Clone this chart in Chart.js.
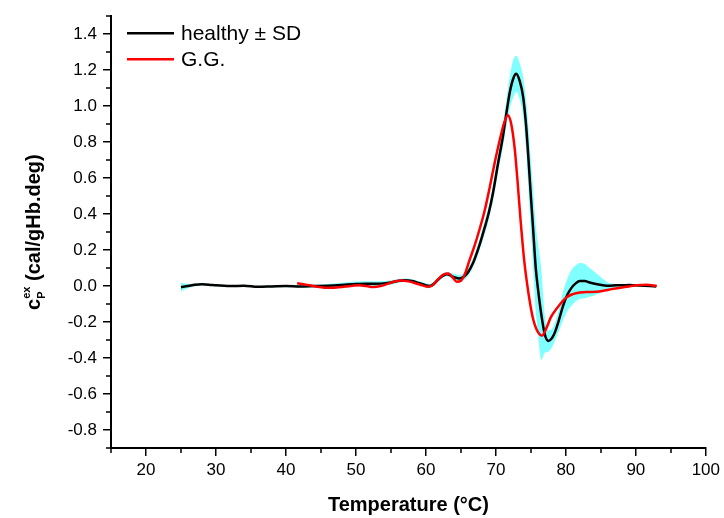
<!DOCTYPE html>
<html>
<head>
  <script src="https://cdn.jsdelivr.net/npm/chart.js"></script>
  <style>
    html, body { margin: 0; padding: 0; background: #fff; }
  </style>
</head>
<body>
  <canvas id="dscChart" width="724" height="518"></canvas>

  <script>
    // healthy: mean excess heat capacity and its SD
    var healthyT = [25, 26, 27, 28, 29, 30, 32, 34, 36, 38, 40, 42, 44, 46, 48, 50, 52, 54, 55, 56, 57,
      58, 59, 60, 60.5, 61, 62, 63, 64, 64.8, 65.5, 66, 66.7, 67.5, 68.1, 69, 69.6, 70.3, 71, 71.5, 72,
      72.5, 72.9, 73.4, 73.9, 74.3, 74.6, 75, 75.3, 75.7, 76, 76.5, 77, 77.5, 78, 78.4, 79, 79.6, 80.2,
      80.8, 81.4, 82, 82.7, 83.4, 84.3, 85.3, 86.2, 87.2, 88, 89, 90, 91, 92, 92.9];
    var healthyCp = [-0.006, 0.0, 0.007, 0.01, 0.008, 0.004, 0.0, 0.002, -0.004, -0.002, 0.0, -0.002, 0.0,
      0.002, 0.006, 0.011, 0.013, 0.015, 0.02, 0.028, 0.032, 0.028, 0.017, 0.004, 0.0, 0.008, 0.045, 0.066,
      0.05, 0.042, 0.055, 0.075, 0.125, 0.21, 0.285, 0.41, 0.52, 0.68, 0.83, 0.96, 1.08, 1.155, 1.18, 1.14, 1.05,
      0.9, 0.74, 0.5, 0.33, 0.1, -0.01, -0.16, -0.27, -0.305, -0.29, -0.26, -0.19, -0.11, -0.05, -0.01,
      0.015, 0.028, 0.028, 0.02, 0.012, 0.005, 0.002, 0.004, 0.004, 0.006, 0.004, 0.002, 0.0, -0.002];
    var healthySd = [0.025, 0.012, 0.008, 0.006, 0.005, 0.005, 0.005, 0.005, 0.005, 0.005, 0.005, 0.006,
      0.008, 0.01, 0.012, 0.014, 0.014, 0.012, 0.012, 0.01, 0.01, 0.01, 0.01, 0.012, 0.012, 0.012, 0.012,
      0.012, 0.018, 0.02, 0.02, 0.02, 0.025, 0.03, 0.035, 0.04, 0.045, 0.05, 0.06, 0.075, 0.09, 0.105, 0.1,
      0.1, 0.11, 0.14, 0.17, 0.2, 0.22, 0.24, 0.25, 0.25, 0.1, 0.06, 0.05, 0.05, 0.06, 0.08, 0.09, 0.1,
      0.1, 0.1, 0.095, 0.08, 0.06, 0.035, 0.015, 0.008, 0.005, 0.005, 0.005, 0.005, 0.005, 0.005];

    // patient G.G.
    var ggT = [41.6, 42.5, 43.4, 44.5, 45.5, 46.5, 47.5, 48.5, 49.5, 50.5, 51.5, 52.5, 53.5, 54.5, 55.5,
      56.5, 57.5, 58.5, 59.5, 60.3, 61, 61.8, 62.5, 63.2, 63.8, 64.4, 65, 65.5, 66.2, 67, 67.7, 68.4, 69.1,
      69.8, 70.6, 71.2, 71.7, 72.2, 72.7, 73.1, 73.5, 74, 74.4, 74.9, 75.3, 75.8, 76.3, 76.6, 77.2, 77.9,
      78.7, 79.4, 80.1, 81, 82, 83, 84.4, 85.5, 86.8, 88, 89, 90.1, 91.5, 93];
    var ggCp = [0.016, 0.01, 0.004, -0.004, -0.009, -0.01, -0.007, -0.003, 0.002, 0.005, 0.0, -0.005, 0.0,
      0.012, 0.025, 0.031, 0.026, 0.016, 0.004, -0.004, 0.006, 0.04, 0.064, 0.07, 0.05, 0.024, 0.03, 0.06,
      0.14, 0.23, 0.32, 0.42, 0.545, 0.68, 0.82, 0.91, 0.95, 0.9, 0.76, 0.58, 0.38, 0.16, 0.03, -0.1, -0.18,
      -0.24, -0.27, -0.275, -0.235, -0.17, -0.125, -0.09, -0.062, -0.045, -0.036, -0.033, -0.032, -0.025,
      -0.015, -0.008, -0.002, 0.004, 0.007, 0.0];

    var xTicks = [20, 30, 40, 50, 60, 70, 80, 90, 100];
    var xMinor = [15, 25, 35, 45, 55, 65, 75, 85, 95];
    var yTicks = [-0.8, -0.6, -0.4, -0.2, 0.0, 0.2, 0.4, 0.6, 0.8, 1.0, 1.2, 1.4];
    var yMinor = [-0.9, -0.7, -0.5, -0.3, -0.1, 0.1, 0.3, 0.5, 0.7, 0.9, 1.1, 1.3, 1.5];

    var fontFamily = 'Arial, "Liberation Sans", sans-serif';
    Chart.defaults.font.family = fontFamily;
    Chart.defaults.color = '#000';

    function pts(xs, ys) {
      return xs.map(function(x, i) { return { x: x, y: ys[i] }; });
    }
    var upper = healthyCp.map(function(v, i) { return v + healthySd[i]; });
    var lower = healthyCp.map(function(v, i) { return v - healthySd[i]; });

    // minor ticks, y axis title with sub/superscript, legend
    var decorPlugin = {
      id: 'decor',
      afterDraw: function(chart) {
        var ctx = chart.ctx, xs = chart.scales.x, ys = chart.scales.y, area = chart.chartArea;
        ctx.save();
        ctx.strokeStyle = '#000';
        ctx.lineWidth = 1.5;
        ctx.beginPath();
        xMinor.forEach(function(v) {
          var px = Math.round(xs.getPixelForValue(v));
          ctx.moveTo(px, area.bottom); ctx.lineTo(px, area.bottom + 5);
        });
        yMinor.forEach(function(v) {
          var py = Math.round(ys.getPixelForValue(v));
          ctx.moveTo(area.left - 5, py); ctx.lineTo(area.left, py);
        });
        ctx.stroke();

        // y title
        var parts = [
          { t: 'c', size: 20, dy: 0 },
          { t: 'P', size: 11, dy: 5 },
          { t: 'ex', size: 11, dy: -10 },
          { t: ' (cal/gHb.deg)', size: 20, dy: 0 }
        ];
        parts.forEach(function(p) {
          ctx.font = 'bold ' + p.size + 'px ' + fontFamily;
          p.w = ctx.measureText(p.t).width;
        });
        var total = parts[0].w + Math.max(parts[1].w, parts[2].w) + parts[3].w;
        ctx.translate(40, (area.top + area.bottom) / 2);
        ctx.rotate(-Math.PI / 2);
        ctx.fillStyle = '#000';
        ctx.textBaseline = 'alphabetic';
        var u = -total / 2;
        ctx.font = 'bold 20px ' + fontFamily;
        ctx.fillText(parts[0].t, u, 0);
        u += parts[0].w;
        ctx.font = 'bold 11px ' + fontFamily;
        ctx.fillText(parts[1].t, u, parts[1].dy);
        ctx.fillText(parts[2].t, u, parts[2].dy);
        u += Math.max(parts[1].w, parts[2].w);
        ctx.font = 'bold 20px ' + fontFamily;
        ctx.fillText(parts[3].t, u, 0);
        ctx.restore();

        // legend
        ctx.save();
        ctx.font = '21px ' + fontFamily;
        ctx.textBaseline = 'middle';
        var row = 0;
        chart.data.datasets.forEach(function(ds) {
          if (!ds.label) return;
          var y = area.top + 17 + row * 26;
          ctx.strokeStyle = ds.borderColor;
          ctx.lineWidth = ds.borderWidth;
          ctx.beginPath();
          ctx.moveTo(area.left + 16, y); ctx.lineTo(area.left + 63, y);
          ctx.stroke();
          ctx.fillStyle = '#000';
          ctx.fillText(ds.label, area.left + 70, y + 1);
          row++;
        });
        ctx.restore();
      }
    };

    new Chart(document.getElementById('dscChart'), {
      type: 'line',
      data: {
        datasets: [
          {
            data: pts(healthyT, upper),
            borderWidth: 0, borderColor: 'rgba(0,0,0,0)', pointRadius: 0,
            backgroundColor: 'rgba(0,255,255,0.5)', fill: '+1',
            cubicInterpolationMode: 'monotone', order: 3
          },
          {
            data: pts(healthyT, lower),
            borderWidth: 0, borderColor: 'rgba(0,0,0,0)', pointRadius: 0,
            fill: false, cubicInterpolationMode: 'monotone', order: 3
          },
          {
            label: 'healthy \u00b1 SD',
            data: pts(healthyT, healthyCp),
            borderColor: '#000', borderWidth: 2.5, pointRadius: 0, fill: false,
            cubicInterpolationMode: 'monotone', order: 1
          },
          {
            label: 'G.G.',
            data: pts(ggT, ggCp),
            borderColor: '#ff0000', borderWidth: 2.5, pointRadius: 0, fill: false,
            cubicInterpolationMode: 'monotone', order: 0
          }
        ]
      },
      options: {
        responsive: false,
        animation: false,
        layout: { padding: { left: 0, right: 18, top: 11, bottom: 0 } },
        plugins: { legend: { display: false }, tooltip: { enabled: false } },
        scales: {
          x: {
            type: 'linear', min: 15, max: 100,
            afterBuildTicks: function(s) { s.ticks = xTicks.map(function(v) { return { value: v }; }); },
            afterFit: function(s) { s.height = 70; },
            ticks: { font: { size: 17 }, padding: 4, maxRotation: 0, callback: function(v) { return String(v); } },
            grid: { drawOnChartArea: false, drawTicks: true, tickLength: 8, color: '#000', lineWidth: 1.5 },
            border: { display: true, color: '#000', width: 2 },
            title: { display: true, text: 'Temperature (\u00b0C)', font: { size: 20, weight: 'bold' }, padding: { top: 0, bottom: 1 } }
          },
          y: {
            type: 'linear', min: -0.9, max: 1.5,
            afterBuildTicks: function(s) { s.ticks = yTicks.map(function(v) { return { value: v }; }); },
            afterFit: function(s) { s.width = 111; },
            ticks: { font: { size: 17 }, padding: 6, callback: function(v) { return Math.abs(v) < 1e-9 ? '0.0' : v.toFixed(1); } },
            grid: { drawOnChartArea: false, drawTicks: true, tickLength: 8, color: '#000', lineWidth: 1.5 },
            border: { display: true, color: '#000', width: 2 }
          }
        }
      },
      plugins: [decorPlugin]
    });
  </script>
</body>
</html>
